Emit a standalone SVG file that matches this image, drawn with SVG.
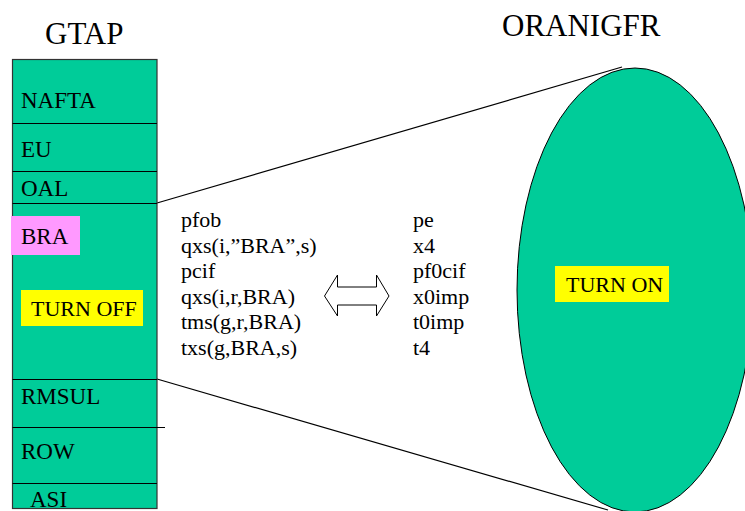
<svg xmlns="http://www.w3.org/2000/svg" width="745" height="511" viewBox="0 0 745 511">
<style>
text{font-family:"Liberation Serif","DejaVu Serif","Noto Serif",Tinos,FreeSerif,"Nimbus Roman","Times New Roman",Times,serif;fill:#000}
.t{font-size:31px}
.lab{font-size:23px}
.v{font-size:22px}
.sep{stroke:#000;stroke-width:1.2;fill:none}
.ln{stroke:#000;stroke-width:1.2;fill:none}
</style>
<rect width="745" height="511" fill="#fff"/>
<g id="connectors">
<line class="ln" x1="157" y1="203" x2="622" y2="67"/>
<line class="ln" x1="157" y1="379" x2="608" y2="510"/>
</g>
<g id="gtap">
<text class="t" x="45" y="44">GTAP</text>
<rect x="12.5" y="59.5" width="144.5" height="449" fill="#00CC99" stroke="#333" stroke-width="1.2"/>
<line class="sep" x1="12.5" y1="123.5" x2="157" y2="123.5"/>
<line class="sep" x1="12.5" y1="171.5" x2="157" y2="171.5"/>
<line class="sep" x1="12.5" y1="203.5" x2="157" y2="203.5"/>
<line class="sep" x1="12.5" y1="379.5" x2="157" y2="379.5"/>
<line class="sep" x1="12.5" y1="427.5" x2="165" y2="427.5"/>
<line class="sep" x1="12.5" y1="483.5" x2="157" y2="483.5"/>
<text class="lab" x="21" y="108">NAFTA</text>
<text class="lab" x="21" y="157">EU</text>
<text class="lab" x="21" y="196">OAL</text>
<rect x="11" y="216" width="69" height="39" fill="#FF99FF"/>
<text class="lab" x="21" y="244">BRA</text>
<rect x="21" y="290" width="122" height="36" fill="#FFFF00"/>
<text class="v" x="31" y="316">TURN OFF</text>
<text class="lab" x="21" y="404">RMSUL</text>
<text class="lab" x="21" y="459">ROW</text>
<text class="lab" x="30" y="507">ASI</text>
</g>
<g id="left-vars">
<text class="v" x="181" y="227">pfob</text>
<text class="v" x="181" y="252.5">qxs(i,”BRA”,s)</text>
<text class="v" x="181" y="278">pcif</text>
<text class="v" x="181" y="303.5">qxs(i,r,BRA)</text>
<text class="v" x="181" y="329">tms(g,r,BRA)</text>
<text class="v" x="181" y="354.5">txs(g,BRA,s)</text>
</g>
<g id="arrow">
<path d="M324.5,296 L337.5,275 L337.5,287 L376.5,287 L376.5,275 L389,296 L376.5,316 L376.5,305 L337.5,305 L337.5,316 Z" fill="#fff" stroke="#000" stroke-width="1"/>
</g>
<g id="right-vars">
<text class="v" x="413" y="227">pe</text>
<text class="v" x="413" y="252.5">x4</text>
<text class="v" x="413" y="278">pf0cif</text>
<text class="v" x="413" y="303.5">x0imp</text>
<text class="v" x="413" y="329">t0imp</text>
<text class="v" x="413" y="354.5">t4</text>
</g>
<g id="oranigfr">
<text class="t" x="502" y="36">ORANIGFR</text>
<ellipse cx="635" cy="290" rx="118" ry="222" fill="#00CC99" stroke="#000" stroke-width="1"/>
<rect x="555" y="266" width="114" height="36" fill="#FFFF00"/>
<text class="v" x="566" y="292">TURN ON</text>
</g>
</svg>
